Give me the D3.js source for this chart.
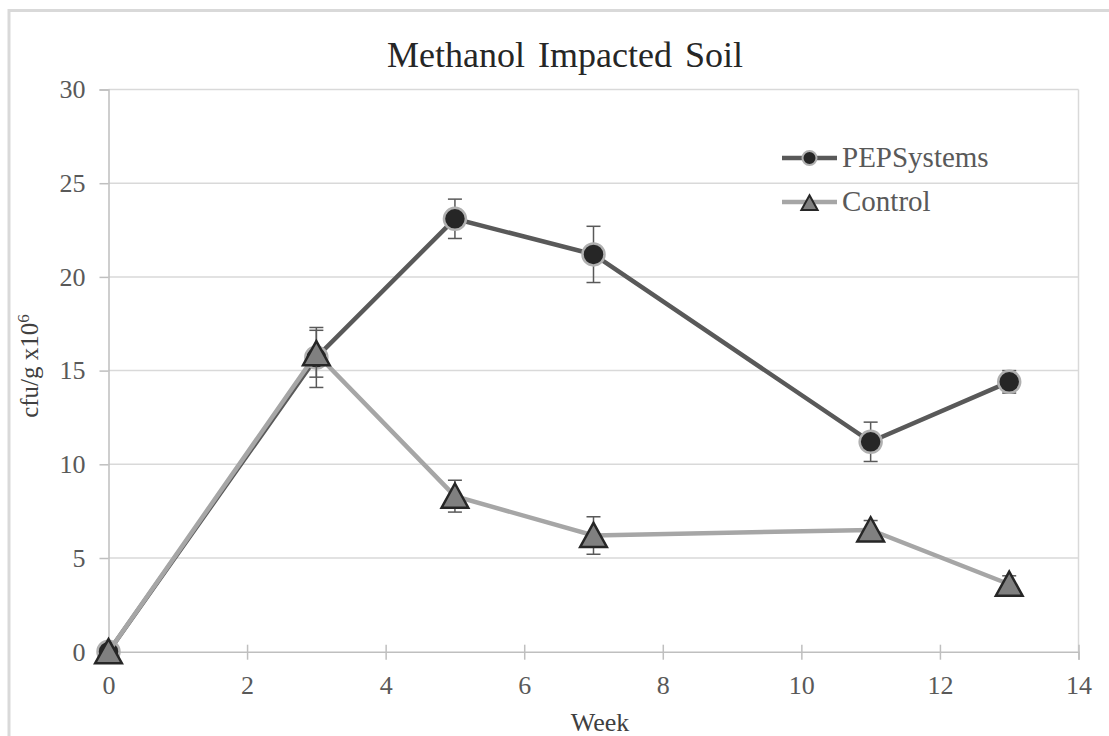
<!DOCTYPE html>
<html>
<head>
<meta charset="utf-8">
<script src="https://cdn.jsdelivr.net/npm/d3@7"></script>
<style>
  body { margin: 0; background: #fff; }
  svg { display: block; font-family: "Liberation Serif", "Times New Roman", serif; }
</style>
</head>
<body>
<svg id="chart"></svg>
<script>
'use strict'

// data
const weeks = [0, 3, 5, 7, 11, 13]
const pepValues = [0, 15.7, 23.1, 21.2, 11.2, 14.4]
const pepErrors = [0, 1.6, 1.05, 1.5, 1.05, 0.6]
const controlValues = [0, 15.9, 8.3, 6.2, 6.5, 3.6]
const controlErrors = [0, 1.25, 0.85, 1.0, 0.5, 0.45]
const xTicks = [0, 2, 4, 6, 8, 10, 12, 14]
const yTicks = [0, 5, 10, 15, 20, 25, 30]
const seriesNames = ['PEPSystems', 'Control']

const width = 1109, height = 736
const margins = {top: 89.5, right: 30.5, bottom: 84.3, left: 108.5}
const chartWidth = width - margins.left - margins.right
const chartHeight = height - margins.top - margins.bottom

const svg = d3.select('#chart').attr('width', width).attr('height', height)

// outer chart frame (runs off the right and bottom edges)
svg.append('rect')
  .attr('x', 9).attr('y', 10.5)
  .attr('width', 1120).attr('height', 760)
  .attr('fill', 'none').attr('stroke', '#d9d9d9').attr('stroke-width', 3)

const g = svg.append('g').attr('transform', 'translate(' + margins.left + ',' + margins.top + ')')

const x = d3.scaleLinear().domain([0, 14]).range([0, chartWidth])
const y = d3.scaleLinear().domain([0, 30]).range([chartHeight, 0])

// horizontal gridlines
g.selectAll('.grid').data(yTicks.filter(d => d > 0)).enter().append('line')
  .attr('x1', 0).attr('x2', chartWidth)
  .attr('y1', d => y(d)).attr('y2', d => y(d))
  .attr('stroke', '#d9d9d9').attr('stroke-width', 1.5)

// right edge of plot area
g.append('line')
  .attr('x1', chartWidth).attr('x2', chartWidth)
  .attr('y1', 0).attr('y2', chartHeight)
  .attr('stroke', '#d9d9d9').attr('stroke-width', 1.5)

// y axis
const yAxis = g.append('g').attr('font-family', null)
  .call(d3.axisLeft(y).tickValues(yTicks).tickSize(9).tickPadding(14))
yAxis.attr('font-family', '"Liberation Serif", serif')
yAxis.select('.domain').attr('stroke', '#bfbfbf').attr('stroke-width', 1.5)
yAxis.selectAll('.tick line').attr('stroke', '#bfbfbf').attr('stroke-width', 1.5)
yAxis.selectAll('text').attr('fill', '#595959').style('font-size', '26px')

// x axis
const xAxis = g.append('g').attr('transform', 'translate(0,' + chartHeight + ')')
  .call(d3.axisBottom(x).tickValues(xTicks).tickSize(8).tickPadding(16))
xAxis.attr('font-family', '"Liberation Serif", serif')
xAxis.select('.domain').attr('stroke', '#bfbfbf').attr('stroke-width', 1.5)
xAxis.selectAll('.tick line').attr('stroke', '#bfbfbf').attr('stroke-width', 1.5).attr('y1', -7)
xAxis.selectAll('text').attr('fill', '#595959').style('font-size', '26px')

// titles
svg.append('text')
  .attr('x', 565).attr('y', 66.5)
  .attr('text-anchor', 'middle')
  .attr('fill', '#262626')
  .style('font-size', '36px').style('word-spacing', '4px')
  .text('Methanol Impacted Soil')

svg.append('text')
  .attr('x', 600).attr('y', 731)
  .attr('text-anchor', 'middle')
  .attr('fill', '#404040')
  .style('font-size', '26px')
  .text('Week')

const yLabel = svg.append('text')
  .attr('transform', 'translate(38,366) rotate(-90)')
  .attr('text-anchor', 'middle')
  .attr('fill', '#404040')
  .style('font-size', '25px')
yLabel.append('tspan').text('cfu/g x10')
yLabel.append('tspan').attr('dy', -9).style('font-size', '17px').text('6')

const line = d3.line().x(d => x(d[0])).y(d => y(d[1]))

function errorBars (values, errors) {
  const eb = g.append('g')
  weeks.forEach((w, i) => {
    if (!errors[i]) return
    const cx = x(w), top = y(values[i] + errors[i]), bottom = y(values[i] - errors[i])
    eb.append('line').attr('x1', cx).attr('x2', cx).attr('y1', top).attr('y2', bottom)
    eb.append('line').attr('x1', cx - 7).attr('x2', cx + 7).attr('y1', top).attr('y2', top)
    eb.append('line').attr('x1', cx - 7).attr('x2', cx + 7).attr('y1', bottom).attr('y2', bottom)
  })
  eb.selectAll('line').attr('stroke', '#595959').attr('stroke-width', 1.5)
}

const triangle = (s) => 'M0,' + (-s * 0.55) + 'L' + (s * 0.58) + ',' + (s * 0.5) + 'L' + (-s * 0.58) + ',' + (s * 0.5) + 'Z'

// PEPSystems series
const pepData = weeks.map((w, i) => [w, pepValues[i]])
g.append('path').datum(pepData).attr('d', line)
  .attr('fill', 'none').attr('stroke', '#595959').attr('stroke-width', 4.5)
errorBars(pepValues, pepErrors)
g.selectAll('.pep').data(pepData).enter().append('circle')
  .attr('cx', d => x(d[0])).attr('cy', d => y(d[1])).attr('r', 11)
  .attr('fill', '#262626').attr('stroke', '#b0b0b0').attr('stroke-width', 2.5)

// Control series
const controlData = weeks.map((w, i) => [w, controlValues[i]])
g.append('path').datum(controlData).attr('d', line)
  .attr('fill', 'none').attr('stroke', '#a6a6a6').attr('stroke-width', 4.5)
errorBars(controlValues, controlErrors)
g.selectAll('.ctrl').data(controlData).enter().append('path')
  .attr('transform', d => 'translate(' + x(d[0]) + ',' + y(d[1]) + ')')
  .attr('d', triangle(23))
  .attr('fill', '#808080').attr('stroke', '#262626').attr('stroke-width', 2.5)

// legend
const legend = svg.append('g').attr('transform', 'translate(782,158)')
seriesNames.forEach((name, i) => {
  const row = legend.append('g').attr('transform', 'translate(0,' + (i * 44) + ')')
  row.append('line').attr('x1', 0).attr('x2', 55).attr('y1', 0).attr('y2', 0)
    .attr('stroke', i === 0 ? '#595959' : '#a6a6a6').attr('stroke-width', 4.5)
  if (i === 0) {
    row.append('circle').attr('cx', 27.5).attr('cy', 0).attr('r', 7)
      .attr('fill', '#262626').attr('stroke', '#b0b0b0').attr('stroke-width', 2)
  } else {
    row.append('path').attr('transform', 'translate(27.5,1)').attr('d', triangle(14))
      .attr('fill', '#808080').attr('stroke', '#262626').attr('stroke-width', 2)
  }
  row.append('text').attr('x', 60).attr('y', 9)
    .attr('fill', '#595959').style('font-size', '29px')
    .text(name)
})
</script>
</body>
</html>
